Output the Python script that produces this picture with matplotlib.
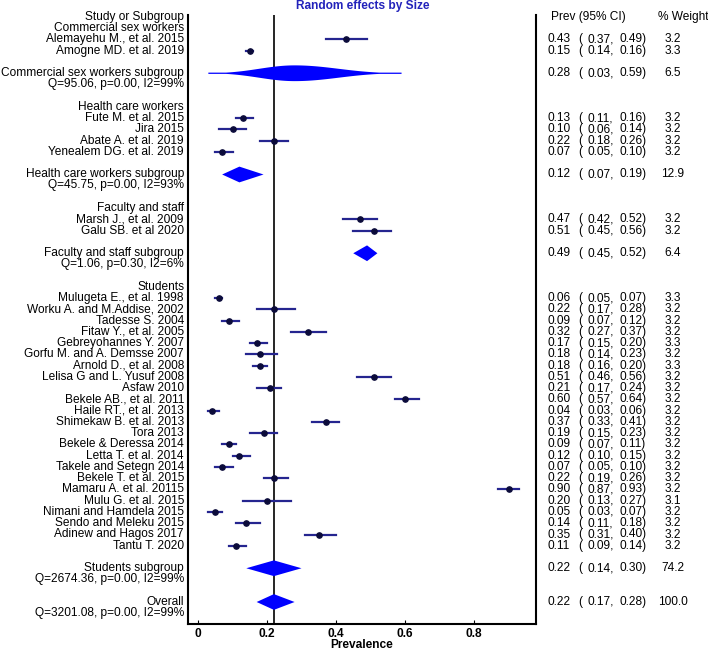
import numpy as np
import matplotlib
matplotlib.use('Agg')
from matplotlib import pyplot as plt
from matplotlib import transforms

plt.rcParams['font.family'] = ['Liberation Sans', 'DejaVu Sans']

# === DATA === #
GroupNames = ['Commercial sex workers', 'Health care workers', 'Faculty and staff', 'Students']

StudyNames = [
    ['Alemayehu M., et al. 2015', 'Amogne MD. et al. 2019'],
    ['Fute M. et al. 2015', 'Jira 2015', 'Abate A. et al. 2019', 'Yenealem DG. et al. 2019'],
    ['Marsh J., et al. 2009', 'Galu SB. et al 2020'],
    ['Mulugeta E., et al. 1998', 'Worku A. and M.Addise, 2002', 'Tadesse S. 2004',
     'Fitaw Y., et al. 2005', 'Gebreyohannes Y. 2007', 'Gorfu M. and A. Demsse 2007',
     'Arnold D., et al. 2008', 'Lelisa G and L. Yusuf 2008', 'Asfaw 2010',
     'Bekele AB., et al. 2011', 'Haile RT., et al. 2013', 'Shimekaw B. et al. 2013',
     'Tora 2013', 'Bekele & Deressa 2014', 'Letta T. et al. 2014',
     'Takele and Setegn 2014', 'Bekele T. et al. 2015', 'Mamaru A. et al. 20115',
     'Mulu G. et al. 2015', 'Nimani and Hamdela 2015', 'Sendo and Meleku 2015',
     'Adinew and Hagos 2017', 'Tantu T. 2020'],
]
StudyEst = [
    [0.43, 0.15],
    [0.13, 0.10, 0.22, 0.07],
    [0.47, 0.51],
    [0.06, 0.22, 0.09, 0.32, 0.17, 0.18, 0.18, 0.51, 0.21, 0.60, 0.04, 0.37,
     0.19, 0.09, 0.12, 0.07, 0.22, 0.90, 0.20, 0.05, 0.14, 0.35, 0.11],
]
StudyLo = [
    [0.37, 0.14],
    [0.11, 0.06, 0.18, 0.05],
    [0.42, 0.45],
    [0.05, 0.17, 0.07, 0.27, 0.15, 0.14, 0.16, 0.46, 0.17, 0.57, 0.03, 0.33,
     0.15, 0.07, 0.10, 0.05, 0.19, 0.87, 0.13, 0.03, 0.11, 0.31, 0.09],
]
StudyHi = [
    [0.49, 0.16],
    [0.16, 0.14, 0.26, 0.10],
    [0.52, 0.56],
    [0.07, 0.28, 0.12, 0.37, 0.20, 0.23, 0.20, 0.56, 0.24, 0.64, 0.06, 0.41,
     0.23, 0.11, 0.15, 0.10, 0.26, 0.93, 0.27, 0.07, 0.18, 0.40, 0.14],
]
StudyWeight = [
    [3.2, 3.3],
    [3.2, 3.2, 3.2, 3.2],
    [3.2, 3.2],
    [3.3, 3.2, 3.2, 3.2, 3.3, 3.2, 3.3, 3.2, 3.2, 3.2, 3.2, 3.2,
     3.2, 3.2, 3.2, 3.2, 3.2, 3.2, 3.1, 3.2, 3.2, 3.2, 3.2],
]

SubEst = [0.28, 0.12, 0.49, 0.22]
SubLo = [0.03, 0.07, 0.45, 0.14]
SubHi = [0.59, 0.19, 0.52, 0.30]
SubWeight = [6.5, 12.9, 6.4, 74.2]
SubQ = [95.06, 45.75, 1.06, 2674.36]
SubP = [0.00, 0.00, 0.30, 0.00]
SubI2 = [99, 93, 6, 99]

OverallEst, OverallLo, OverallHi, OverallWeight = 0.22, 0.17, 0.28, 100.0
OverallQ, OverallP, OverallI2 = 3201.08, 0.00, 99

XTicks = [0, 0.2, 0.4, 0.6, 0.8]

# === STYLE === #
W, H = 708, 653
CILineColor = '#25258f'
DotColor = '#0b0b3a'
DiamondColor = '#0000ff'
FontSize = 8.6
DiamondHeight = 1.4
LabelX = 184        # px, right edge of left labels
EstX, ParX, LoX, HiX, WtX = 548, 578, 587, 620, 673


def fx(px):
    return px / W


def DrawDiamond(ax, est, lo, hi, y, h):
    '''
    Draw a summary diamond; very wide intervals get a spindle shape
    '''
    if hi - lo > 0.4:
        xs = np.linspace(lo, hi, 200)
        d = np.where(xs < est, (est - xs) / (est - lo), (xs - est) / (hi - est))
        half = h / 2 * np.maximum(np.exp(-3.2 * d ** 2) * (1 - d ** 4), 0.08)
        ax.fill(np.concatenate([xs, xs[::-1]]), np.concatenate([y - half, (y + half)[::-1]]),
                color=DiamondColor, lw=0, zorder=3)
    else:
        ax.fill([lo, est, hi, est], [y, y - h / 2, y, y + h / 2], color=DiamondColor, lw=0, zorder=3)


def RowText(trans, row, name, est, lo, hi, wt):
    plt.text(fx(LabelX), row, name, transform=trans, ha='right', va='center', size=FontSize)
    plt.text(fx(EstX), row, f'{est:.2f}', transform=trans, ha='left', va='center', size=FontSize)
    plt.text(fx(ParX), row, '(', transform=trans, ha='left', va='center', size=FontSize)
    plt.text(fx(LoX), row, f'{lo:.2f},', transform=trans, ha='left', va='center', size=FontSize)
    plt.text(fx(HiX), row, f'{hi:.2f})', transform=trans, ha='left', va='center', size=FontSize)
    plt.text(fx(WtX), row, f'{wt:.1f}', transform=trans, ha='center', va='center', size=FontSize)


fig = plt.figure(figsize=(W / 100, H / 100), dpi=100)
ax = fig.add_axes([fx(188), 1 - 624 / H, fx(536 - 188), (624 - 15) / H])
trans = transforms.blended_transform_factory(fig.transFigure, ax.transData)

# header
plt.text(fx(LabelX), 0, 'Study or Subgroup', transform=trans, ha='right', va='center', size=FontSize)
plt.text(fx(551), 0, 'Prev (95% CI)', transform=trans, ha='left', va='center', size=FontSize)
plt.text(fx(658), 0, '% Weight', transform=trans, ha='left', va='center', size=FontSize)

row = 1
for g, group in enumerate(GroupNames):
    plt.text(fx(LabelX), row, group, transform=trans, ha='right', va='center', size=FontSize)
    for i, name in enumerate(StudyNames[g]):
        r = row + 1 + i
        ax.plot([StudyLo[g][i], StudyHi[g][i]], [r, r], color=CILineColor, lw=1.6, zorder=2)
        ax.plot(StudyEst[g][i], r, 'o', color=DotColor, ms=3.8, zorder=3)
        RowText(trans, r, name, StudyEst[g][i], StudyLo[g][i], StudyHi[g][i], StudyWeight[g][i])
    rs = row + len(StudyNames[g]) + 2
    DrawDiamond(ax, SubEst[g], SubLo[g], SubHi[g], rs, DiamondHeight)
    RowText(trans, rs, f'{group} subgroup', SubEst[g], SubLo[g], SubHi[g], SubWeight[g])
    plt.text(fx(LabelX), rs + 0.95, f'Q={SubQ[g]:.2f}, p={SubP[g]:.2f}, I2={SubI2[g]}%',
             transform=trans, ha='right', va='center', size=FontSize)
    row = rs + 3

DrawDiamond(ax, OverallEst, OverallLo, OverallHi, row, DiamondHeight)
RowText(trans, row, 'Overall', OverallEst, OverallLo, OverallHi, OverallWeight)
plt.text(fx(LabelX), row + 0.95, f'Q={OverallQ:.2f}, p={OverallP:.2f}, I2={OverallI2}%',
         transform=trans, ha='right', va='center', size=FontSize)

ax.axvline(OverallEst, color='black', lw=1.2, zorder=1)

ax.set_xlim(-10 / 345, 338 / 345)
ax.set_ylim((624 - 17) / 11.25, -2 / 11.25)
ax.set_xticks(XTicks)
ax.set_xticklabels([f'{t:g}' for t in XTicks], fontweight='bold', size=FontSize)
ax.set_yticks([])
ax.tick_params(axis='x', direction='in', length=3, pad=3)
ax.spines['top'].set_visible(False)
for s in ['left', 'right', 'bottom']:
    ax.spines[s].set_linewidth(1.5)
ax.set_xlabel('Prevalence', fontweight='bold', size=FontSize, labelpad=-1)

fig.text(fx(363), 1 - 6 / H, 'Random effects by Size', color='#2222bb', fontweight='bold',
         ha='center', va='center', size=FontSize)

fig.savefig('out.png', dpi=100)
